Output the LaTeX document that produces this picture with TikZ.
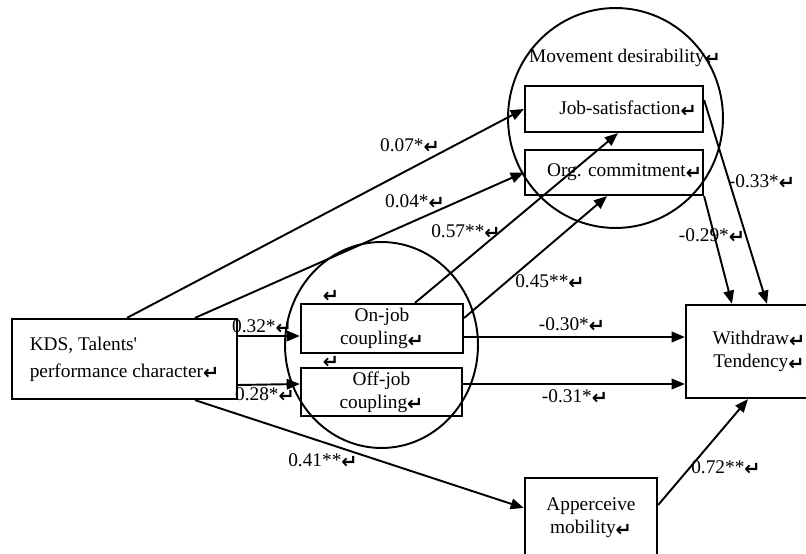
\documentclass[tikz,border=0pt]{standalone}
\usepackage{fontspec}
\setmainfont{Liberation Serif}
\newfontfamily\retfont{DejaVu Sans}
\newcommand{\pmark}{{\retfont\bfseries\raisebox{-1.5pt}{↵}}}
\usetikzlibrary{arrows.meta,shapes.geometric}

\begin{document}
\begin{tikzpicture}[x=0.02cm, y=-0.02cm, line width=1.1pt,
        font=\fontsize{11}{13}\selectfont,
        box/.style={draw, line width=1.3pt, align=center, inner sep=0pt},
        ring/.style={draw, ellipse, inner sep=0pt},
        arr/.style={-{Triangle[length=7.5pt,width=6pt]}},
        coef/.style={inner sep=0pt}]
        \useasboundingbox (0,0) rectangle (806,554);

        % Circles round the two groups
        \node[ring, minimum width=4.3cm, minimum height=4.4cm] (movement) at (615.5,118) {};
        \node[ring, minimum width=3.86cm, minimum height=4.12cm] (coupling) at (381.5,345) {};
        \node (movlabel) at (625,58) {Movement desirability\pmark};

        % Boxes
        \node[box, minimum width=4.5cm, minimum height=1.6cm, align=left,
              font=\fontsize{11}{15.5}\selectfont] (kds) at (124.5,359)
              {KDS, Talents\textquotesingle\\performance character\pmark};
        \node[box, minimum width=3.24cm, minimum height=0.98cm] (onjob) at (382,328.5) {On-job\\coupling\pmark};
        \node[box, minimum width=3.22cm, minimum height=0.96cm] (offjob) at (381.5,392) {Off-job\\coupling\pmark};
        \node[box, minimum width=3.56cm, minimum height=0.92cm] (jobsat) at (614,109) {\hspace{16pt}Job-satisfaction\pmark};
        \node[box, minimum width=3.56cm, minimum height=0.9cm] (orgcom) at (614,172.5) {\hspace{12pt}Org. commitment\pmark};
        \node[box, minimum width=2.92cm, minimum height=1.86cm] (withdraw) at (759,351.5) {Withdraw\pmark\\Tendency\pmark};
        \node[box, minimum width=2.64cm, minimum height=1.6cm] (apper) at (591,518) {Apperceive\\mobility\pmark};
        \node (mark1) at (331,296) {\pmark};
        \node (mark2) at (331,362) {\pmark};

        % Paths with coefficients
        \draw[arr] (127,0 |- kds.north) -- (jobsat.west);
        \draw[arr] (195,0 |- kds.north) -- (orgcom.west);
        \draw[arr] (415,0 |- onjob.north) -- (618,0 |- jobsat.south);
        \draw[arr] (onjob.east |- 0,318) -- (607,0 |- orgcom.south);
        \draw[arr] (kds.east |- 0,336) -- (onjob.west |- 0,336);
        \draw[arr] (kds.east |- 0,385) -- (offjob.west |- 0,384);
        \draw[arr] (onjob.east |- 0,337) -- (withdraw.west |- 0,337);
        \draw[arr] (offjob.east |- 0,384) -- (withdraw.west |- 0,384);
        \draw[arr] (jobsat.east |- 0,100) -- (767,0 |- withdraw.north);
        \draw[arr] (orgcom.south east) -- (732,0 |- withdraw.north);
        \draw[arr] (195,0 |- kds.south) -- (apper.west |- 0,508);
        \draw[arr] (apper.east |- 0,505) -- (748,0 |- withdraw.south);

        \node[coef] (c07) at (410,146) {0.07*\pmark};
        \node[coef] (c04) at (415,202) {0.04*\pmark};
        \node[coef] (c57) at (466,232) {0.57**\pmark};
        \node[coef] (c45) at (550,282) {0.45**\pmark};
        \node[coef] (c32) at (262,327) {0.32*\pmark};
        \node[coef] (c28) at (265,395) {0.28*\pmark};
        \node[coef] (c30) at (572,325) {-0.30*\pmark};
        \node[coef] (c31) at (575,397) {-0.31*\pmark};
        \node[coef] (c33) at (762,182) {-0.33*\pmark};
        \node[coef] (c29) at (712,236) {-0.29*\pmark};
        \node[coef] (c41) at (323,461) {0.41**\pmark};
        \node[coef] (c72) at (726,468) {0.72**\pmark};
    \end{tikzpicture}
\end{document}
